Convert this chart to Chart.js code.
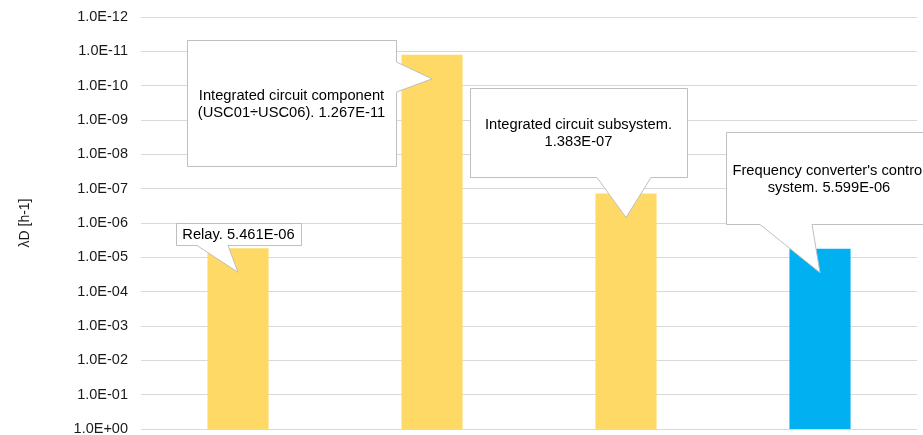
<!DOCTYPE html>
<html>
<head>
<meta charset="utf-8">
<script src="https://cdn.jsdelivr.net/npm/chart.js@4.4.1/dist/chart.umd.min.js"></script>
<style>
  html, body { margin: 0; padding: 0; background: #fff; overflow: hidden; }
  #wrap { width: 923px; height: 435px; position: relative; }
</style>
</head>
<body>
<div id="wrap"><canvas id="chart"></canvas></div>
<script>
// categories and lambda D values [h-1]
const categories = ['Relay', 'Integrated circuit component (USC01\u00f7USC06)', 'Integrated circuit subsystem', "Frequency converter's control system"];
const lambdaD = [5.461e-6, 1.267e-11, 1.383e-7, 5.599e-6];
const tickExponents = [-12, -11, -10, -9, -8, -7, -6, -5, -4, -3, -2, -1, 0];

const FONT = '"Liberation Sans", Arial, sans-serif';

function sci(v, d) {
    const parts = v.toExponential(d).split('e');
    const n = parseInt(parts[1], 10);
    return parts[0] + 'E' + (n < 0 ? '-' : '+') + String(Math.abs(n)).padStart(2, '0');
}

// callout boxes (pixels), pointer goes to the bar
const callouts = [
    { x: 176, y: 223, w: 125, h: 22, side: 'bottom', a: 197, b: 228 },
    { x: 187, y: 40, w: 209, h: 126, side: 'right', a: 62, b: 92 },
    { x: 470, y: 88, w: 217, h: 89, side: 'bottom', a: 597, b: 651 },
    { x: 726, y: 132, w: 206, h: 92, side: 'bottom', a: 760, b: 812 }
];

function wrap(ctx, text, maxW) {
    let words = text.split(' '), lines = [], cur = '';
    for (let w of words) {
        let t = cur ? cur + ' ' + w : w;
        if (ctx.measureText(t).width > maxW && cur) {
            lines.push(cur);
            cur = w;
        } else cur = t;
    }
    if (cur) lines.push(cur);
    return lines;
}

const calloutPlugin = {
    id: 'callouts',
    afterDatasetsDraw(chart) {
        const ctx = chart.ctx;
        const meta = chart.getDatasetMeta(0);
        ctx.save();
        ctx.font = '14.7px ' + FONT;
        meta.data.forEach(function(bar, i) {
            const c = callouts[i];
            const top = Math.min(bar.y, bar.base);
            const tx = bar.x, ty = top + 24;
            const x = c.x + 0.5, y = c.y + 0.5, r = x + c.w, btm = y + c.h;
            ctx.beginPath();
            ctx.moveTo(x, y);
            ctx.lineTo(r, y);
            if (c.side === 'right') {
                ctx.lineTo(r, c.a);
                ctx.lineTo(tx, ty);
                ctx.lineTo(r, c.b);
                ctx.lineTo(r, btm);
                ctx.lineTo(x, btm);
            } else {
                ctx.lineTo(r, btm);
                ctx.lineTo(c.b, btm);
                ctx.lineTo(tx, ty);
                ctx.lineTo(c.a, btm);
                ctx.lineTo(x, btm);
            }
            ctx.closePath();
            ctx.fillStyle = '#ffffff';
            ctx.fill();
            ctx.strokeStyle = '#bfbfbf';
            ctx.lineWidth = 1;
            ctx.stroke();

            const txt = categories[i] + '. ' + sci(lambdaD[i], 3);
            const lines = wrap(ctx, txt, c.w - 12);
            const lh = 17;
            const cx = c.x + c.w / 2, cy = c.y + c.h / 2;
            ctx.fillStyle = '#000';
            ctx.textAlign = 'center';
            ctx.textBaseline = 'middle';
            lines.forEach(function(l, k) {
                ctx.fillText(l, cx, cy + (k - (lines.length - 1) / 2) * lh + 1);
            });
        });
        ctx.restore();
    }
};

new Chart(document.getElementById('chart'), {
    type: 'bar',
    data: {
        labels: categories,
        datasets: [{
            data: lambdaD.map(v => [1, v]),
            backgroundColor: ['#ffd966', '#ffd966', '#ffd966', '#00b0f0'],
            borderWidth: 0,
            barPercentage: 0.315,
            categoryPercentage: 1
        }]
    },
    options: {
        responsive: true,
        maintainAspectRatio: false,
        animation: false,
        layout: { padding: { top: 17, right: 6, bottom: 6, left: 0 } },
        plugins: { legend: { display: false }, tooltip: { enabled: false } },
        scales: {
            x: { display: false },
            y: {
                type: 'logarithmic',
                reverse: true,
                min: 1e-12,
                max: 1,
                afterBuildTicks: s => { s.ticks = tickExponents.map(e => ({ value: Math.pow(10, e) })); },
                afterFit: s => { s.width = 141; s.paddingTop = 0; s.paddingBottom = 0; },
                grid: { color: '#d9d9d9', drawTicks: false },
                border: { display: false },
                ticks: {
                    padding: 13,
                    color: '#1a1a1a',
                    font: { family: FONT, size: 14.5 },
                    callback: v => sci(v, 1)
                },
                title: {
                    display: true,
                    text: '\u03bbD [h-1]',
                    color: '#1a1a1a',
                    font: { family: FONT, size: 14 },
                    padding: { top: 17, bottom: 0 }
                }
            }
        }
    },
    plugins: [calloutPlugin]
});
</script>
</body>
</html>
